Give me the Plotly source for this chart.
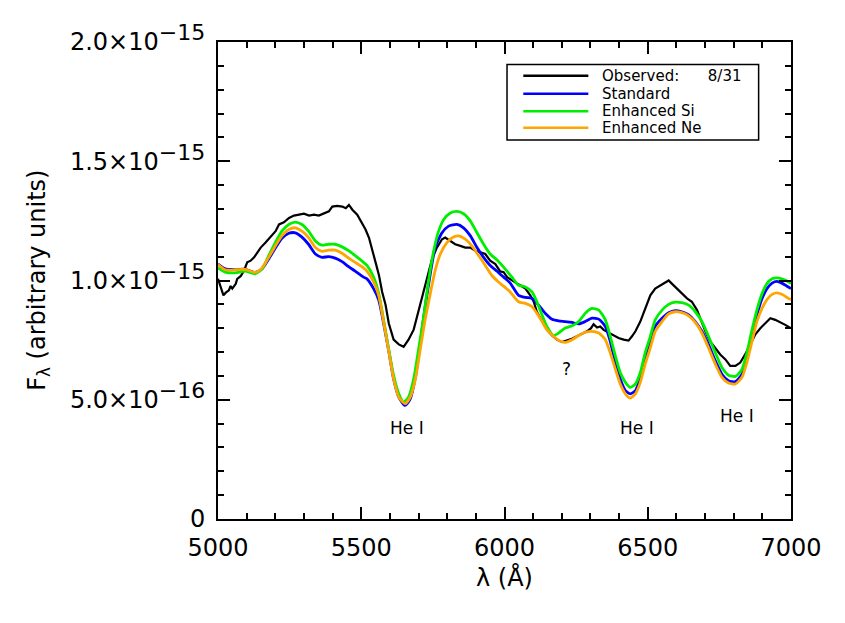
import numpy as np
import plotly.graph_objects as go

# observed spectrum, flux in units of 1e-15
wave_obs = [5000, 5009, 5019, 5027, 5038, 5044, 5050, 5062, 5067, 5079, 5091, 5102, 5114, 5126,
            5137, 5149, 5166, 5184, 5201, 5213, 5230, 5248, 5265, 5283, 5300, 5318, 5335, 5352,
            5370, 5387, 5399, 5416, 5434, 5446, 5457, 5469, 5486, 5504, 5515, 5527, 5539, 5550,
            5562, 5573, 5585, 5596, 5613, 5631, 5648, 5665, 5683, 5695, 5706, 5718, 5729, 5747,
            5764, 5782, 5793, 5811, 5828, 5846, 5863, 5881, 5898, 5916, 5933, 5950, 5968, 5985,
            5997, 6009, 6026, 6044, 6055, 6073, 6090, 6102, 6113, 6131, 6148, 6166, 6183, 6201,
            6218, 6235, 6253, 6270, 6288, 6302, 6311, 6323, 6334, 6346, 6364, 6381, 6398, 6416,
            6433, 6445, 6457, 6474, 6491, 6509, 6526, 6544, 6561, 6573, 6584, 6602, 6619, 6637,
            6654, 6672, 6683, 6701, 6718, 6736, 6753, 6771, 6788, 6806, 6823, 6840, 6858, 6875,
            6893, 6910, 6928, 6945, 6963, 6980, 7000]
flux_obs = [1.007, 0.973, 0.938, 0.949, 0.959, 0.977, 0.966, 0.986, 1.007, 1.018, 1.042, 1.076,
            1.083, 1.097, 1.117, 1.138, 1.159, 1.186, 1.207, 1.235, 1.244, 1.262, 1.272, 1.276,
            1.280, 1.272, 1.276, 1.272, 1.283, 1.290, 1.310, 1.313, 1.310, 1.303, 1.317, 1.297,
            1.276, 1.241, 1.214, 1.179, 1.131, 1.076, 1.021, 0.952, 0.897, 0.821, 0.752, 0.732,
            0.722, 0.752, 0.794, 0.849, 0.904, 0.959, 1.014, 1.090, 1.138, 1.173, 1.180, 1.166,
            1.152, 1.145, 1.138, 1.138, 1.125, 1.118, 1.111, 1.083, 1.069, 1.038, 1.035, 1.014,
            1.000, 0.987, 0.980, 0.966, 0.938, 0.911, 0.869, 0.828, 0.793, 0.770, 0.752, 0.742,
            0.748, 0.756, 0.766, 0.776, 0.787, 0.800, 0.817, 0.803, 0.807, 0.793, 0.780, 0.770,
            0.759, 0.752, 0.748, 0.766, 0.787, 0.828, 0.883, 0.938, 0.966, 0.980, 0.993, 1.000,
            0.987, 0.966, 0.945, 0.925, 0.911, 0.876, 0.842, 0.787, 0.745, 0.718, 0.690, 0.669,
            0.642, 0.642, 0.656, 0.690, 0.731, 0.773, 0.800, 0.821, 0.842, 0.835, 0.825, 0.814,
            0.800]

# standard model
wave_std = [5000, 5025, 5060, 5095, 5130, 5154, 5177, 5200, 5223, 5247, 5270, 5293, 5316, 5340,
            5363, 5386, 5409, 5433, 5456, 5479, 5508, 5520, 5543, 5561, 5578, 5596, 5613, 5631,
            5653, 5671, 5689, 5706, 5723, 5741, 5758, 5782, 5805, 5834, 5857, 5881, 5904, 5927,
            5950, 5974, 5997, 6020, 6049, 6073, 6096, 6119, 6142, 6166, 6189, 6212, 6236, 6259,
            6282, 6305, 6329, 6352, 6369, 6387, 6404, 6422, 6439, 6457, 6474, 6491, 6509, 6526,
            6550, 6573, 6596, 6619, 6643, 6666, 6689, 6712, 6736, 6759, 6782, 6806, 6829, 6846,
            6864, 6881, 6899, 6916, 6934, 6951, 6968, 6986, 7000]
flux_std = [1.069, 1.049, 1.046, 1.047, 1.034, 1.049, 1.090, 1.136, 1.177, 1.198, 1.200, 1.182,
            1.152, 1.111, 1.097, 1.100, 1.094, 1.079, 1.058, 1.039, 1.014, 1.007, 0.966, 0.918,
            0.821, 0.704, 0.587, 0.511, 0.476, 0.504, 0.594, 0.738, 0.890, 1.028, 1.138, 1.200,
            1.228, 1.235, 1.221, 1.187, 1.138, 1.097, 1.063, 1.039, 1.014, 0.989, 0.938, 0.929,
            0.925, 0.897, 0.863, 0.838, 0.831, 0.828, 0.824, 0.818, 0.828, 0.842, 0.838, 0.807,
            0.745, 0.656, 0.587, 0.538, 0.525, 0.538, 0.594, 0.669, 0.738, 0.808, 0.842, 0.865,
            0.874, 0.869, 0.856, 0.828, 0.787, 0.732, 0.663, 0.607, 0.580, 0.576, 0.607, 0.676,
            0.773, 0.856, 0.925, 0.966, 0.989, 0.996, 0.989, 0.976, 0.966]

# enhanced Si model
wave_si = [5000, 5025, 5060, 5095, 5130, 5154, 5177, 5200, 5223, 5247, 5270, 5293, 5316, 5340,
           5363, 5386, 5409, 5433, 5456, 5479, 5508, 5520, 5543, 5561, 5578, 5596, 5613, 5631,
           5648, 5665, 5683, 5700, 5718, 5735, 5753, 5770, 5788, 5811, 5834, 5857, 5881, 5904,
           5927, 5950, 5974, 5997, 6026, 6049, 6073, 6096, 6113, 6131, 6148, 6171, 6189, 6212,
           6236, 6259, 6282, 6305, 6329, 6352, 6369, 6387, 6404, 6422, 6439, 6457, 6474, 6491,
           6509, 6526, 6550, 6573, 6596, 6619, 6643, 6666, 6689, 6712, 6736, 6759, 6782, 6806,
           6829, 6846, 6864, 6881, 6899, 6916, 6934, 6951, 6968, 6986, 7000]
flux_si = [1.053, 1.035, 1.032, 1.039, 1.028, 1.049, 1.104, 1.159, 1.207, 1.235, 1.245, 1.235,
           1.207, 1.166, 1.148, 1.152, 1.152, 1.141, 1.125, 1.104, 1.076, 1.063, 1.014, 0.945,
           0.835, 0.711, 0.601, 0.525, 0.490, 0.511, 0.587, 0.711, 0.849, 1.000, 1.125, 1.207,
           1.256, 1.283, 1.290, 1.280, 1.249, 1.200, 1.152, 1.111, 1.086, 1.056, 1.014, 0.980,
           0.973, 0.952, 0.911, 0.856, 0.807, 0.769, 0.780, 0.801, 0.810, 0.828, 0.863, 0.883,
           0.876, 0.835, 0.766, 0.683, 0.614, 0.573, 0.552, 0.566, 0.614, 0.697, 0.766, 0.835,
           0.876, 0.900, 0.909, 0.907, 0.897, 0.869, 0.828, 0.766, 0.697, 0.635, 0.603, 0.598,
           0.628, 0.697, 0.794, 0.876, 0.945, 0.987, 1.007, 1.011, 1.007, 0.998, 0.987]

# enhanced Ne model
wave_ne = [5000, 5025, 5060, 5095, 5130, 5154, 5177, 5200, 5223, 5247, 5270, 5293, 5316, 5340,
           5363, 5386, 5409, 5433, 5456, 5479, 5508, 5520, 5543, 5561, 5578, 5596, 5613, 5631,
           5653, 5671, 5689, 5706, 5723, 5741, 5758, 5776, 5799, 5822, 5840, 5863, 5886, 5910,
           5933, 5956, 5979, 6003, 6020, 6049, 6073, 6096, 6113, 6131, 6148, 6171, 6195, 6212,
           6236, 6259, 6282, 6305, 6329, 6352, 6369, 6387, 6404, 6422, 6439, 6457, 6474, 6491,
           6509, 6526, 6550, 6573, 6596, 6619, 6643, 6666, 6689, 6712, 6736, 6759, 6782, 6806,
           6829, 6846, 6864, 6881, 6899, 6916, 6934, 6951, 6968, 6986, 7000]
flux_ne = [1.067, 1.045, 1.045, 1.047, 1.034, 1.053, 1.097, 1.145, 1.187, 1.214, 1.221, 1.207,
           1.180, 1.138, 1.122, 1.127, 1.127, 1.114, 1.094, 1.076, 1.053, 1.039, 0.994, 0.938,
           0.828, 0.704, 0.587, 0.511, 0.483, 0.511, 0.587, 0.711, 0.835, 0.945, 1.042, 1.111,
           1.159, 1.182, 1.187, 1.173, 1.145, 1.104, 1.063, 1.021, 0.994, 0.970, 0.952, 0.911,
           0.904, 0.890, 0.863, 0.828, 0.794, 0.766, 0.745, 0.741, 0.752, 0.769, 0.783, 0.787,
           0.780, 0.752, 0.697, 0.628, 0.566, 0.525, 0.507, 0.525, 0.573, 0.649, 0.718, 0.787,
           0.828, 0.860, 0.869, 0.865, 0.852, 0.824, 0.780, 0.718, 0.649, 0.594, 0.570, 0.566,
           0.594, 0.656, 0.745, 0.828, 0.883, 0.920, 0.942, 0.948, 0.942, 0.929, 0.920]

legend_names = ["Observed:\u00a0\u00a0\u00a0\u00a0\u00a0 8/31", "Standard", "Enhanced Si", "Enhanced Ne"]
line_colors = ["black", "#0000ff", "#00ee00", "#ffa500"]

# line labels
label_text = ["He I", "He I", "He I", "?"]
label_wave = [5660, 6463, 6811, 6216]
label_flux = [0.382, 0.380, 0.431, 0.631]

y_tickvals = [0, 0.5, 1.0, 1.5, 2.0]
y_ticktext = ["0",
              "5.0\u00d710<sup><span style='font-size:22px'>\u221216</span></sup>",
              "1.0\u00d710<sup><span style='font-size:22px'>\u221215</span></sup>",
              "1.5\u00d710<sup><span style='font-size:22px'>\u221215</span></sup>",
              "2.0\u00d710<sup><span style='font-size:22px'>\u221215</span></sup>"]

SCALE = 1e-15
FONT = "DejaVu Sans"

fig = go.Figure()

series = [(wave_obs, flux_obs, 2.2, "linear"),
          (wave_std, flux_std, 2.8, "spline"),
          (wave_si, flux_si, 2.8, "spline"),
          (wave_ne, flux_ne, 2.8, "spline")]
for i, (w, f, lw, shape) in enumerate(series):
    fig.add_trace(go.Scatter(
        x=w, y=np.array(f) * SCALE, mode="lines",
        line=dict(color=line_colors[i], width=lw, shape=shape, smoothing=0.6),
        name=legend_names[i], showlegend=False, hoverinfo="skip"))

for t, w, f in zip(label_text, label_wave, label_flux):
    fig.add_annotation(x=w, y=f * SCALE, text=t, showarrow=False,
                       font=dict(family=FONT, size=17, color="black"))

# legend drawn by hand, to look like the IDL one
row_y = [0.9293, 0.8915, 0.8549, 0.8203]
fig.add_shape(type="rect", xref="paper", yref="paper", x0=0.5044, x1=0.9435, y0=0.7943, y1=0.9527,
              line=dict(color="black", width=1.5), fillcolor="white")
for name, col, yy in zip(legend_names, line_colors, row_y):
    fig.add_shape(type="line", xref="paper", yref="paper", x0=0.5328, x1=0.6463, y0=yy, y1=yy,
                  line=dict(color=col, width=2.5))
    fig.add_annotation(xref="paper", yref="paper", x=0.6672, y=yy, xanchor="left", yanchor="middle",
                       text=name, showarrow=False, font=dict(family=FONT, size=15, color="black"))

fig.add_annotation(xref="paper", yref="paper", x=-0.3136, y=0.5, textangle=-90,
                   xanchor="center", yanchor="middle",
                   text="F<sub>\u03bb</sub> (arbitrary units)", showarrow=False,
                   font=dict(family=FONT, size=24, color="black"))
fig.add_annotation(xref="paper", yref="paper", x=0.5, y=-0.123,
                   xanchor="center", yanchor="middle",
                   text="\u03bb (\u00c5)", showarrow=False,
                   font=dict(family=FONT, size=24, color="black"))

axis_common = dict(showgrid=False, zeroline=False, showline=True, linecolor="black", linewidth=2,
                   mirror="allticks", ticks="inside", ticklen=12, tickwidth=1.5, tickcolor="black",
                   ticklabelstandoff=6, tickfont=dict(family=FONT, size=24, color="black"))

fig.update_xaxes(range=[5000, 7000], tickvals=[5000, 5500, 6000, 6500, 7000],
                 minor=dict(dtick=100, ticks="inside", ticklen=6, tickwidth=1.5, tickcolor="black"),
                 **axis_common)
fig.update_yaxes(range=[0, 2e-15], tickvals=[v * SCALE for v in y_tickvals], ticktext=y_ticktext,
                 minor=dict(dtick=1e-16, ticks="inside", ticklen=6, tickwidth=1.5, tickcolor="black"),
                 **axis_common)

# the page adds an 8px body margin, so the figure is a bit smaller than the window
fig.update_layout(width=837, height=615, plot_bgcolor="white", paper_bgcolor="white",
                  margin=dict(l=210, r=54, t=27, b=104), showlegend=False,
                  font=dict(family=FONT, color="black"))

fig.write_html("out.html")
